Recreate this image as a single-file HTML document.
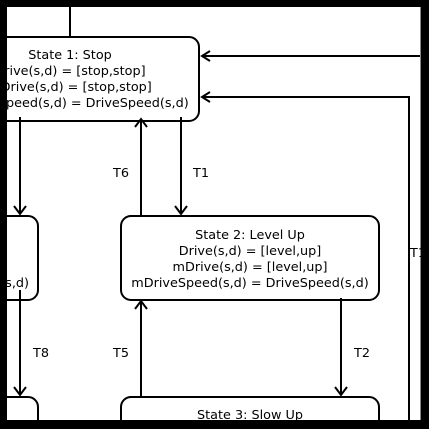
<!DOCTYPE html>
<html><head><style>
html,body{margin:0;padding:0;background:#fff;width:429px;height:429px;overflow:hidden;}
svg{display:block;}
text{font-family:"DejaVu Sans","Liberation Sans",sans-serif;font-size:12.8px;fill:#000;}
</style></head><body>
<svg width="429" height="429" viewBox="0 0 429 429" xmlns="http://www.w3.org/2000/svg">
<rect x="0" y="0" width="429" height="429" fill="#fff"/>
<g fill="none" stroke="#000" stroke-width="2">
<line x1="70" y1="7" x2="70" y2="37"/>
<rect x="-60" y="37" width="259" height="84" rx="10"/>
<rect x="121" y="216" width="258" height="84" rx="10"/>
<rect x="-60" y="216" width="98" height="84" rx="10"/>
<rect x="-60" y="397" width="98" height="84" rx="10"/>
<rect x="121" y="397" width="258" height="84" rx="10"/>
<line x1="202" y1="56" x2="421" y2="56"/>
<polyline points="202,97 409,97 409,421"/>
<line x1="20" y1="117" x2="20" y2="214"/>
<line x1="181" y1="117" x2="181" y2="214"/>
<line x1="141" y1="120" x2="141" y2="216"/>
<line x1="20" y1="290" x2="20" y2="395"/>
<line x1="141" y1="302" x2="141" y2="397"/>
<line x1="341" y1="298" x2="341" y2="395"/>
<polyline points="14,206 20,214 26,206"/>
<polyline points="175,206 181,214 187,206"/>
<polyline points="135,127 141,119 147,127"/>
<polyline points="14,387 20,395 26,387"/>
<polyline points="135,309 141,301 147,309"/>
<polyline points="335,387 341,395 347,387"/>
<polyline points="210,51 202,56 210,61"/>
<polyline points="210,92 202,97 210,102"/>
</g>
<line x1="420.5" y1="7" x2="420.5" y2="421" stroke="#888" stroke-width="1"/>
<g text-anchor="middle">
<text x="70" y="59">State 1: Stop</text>
<text x="70" y="75">Drive(s,d) = [stop,stop]</text>
<text x="70" y="91">mDrive(s,d) = [stop,stop]</text>
<text x="70" y="107">mDriveSpeed(s,d) = DriveSpeed(s,d)</text>
<text x="250" y="239">State 2: Level Up</text>
<text x="250" y="255">Drive(s,d) = [level,up]</text>
<text x="250" y="271">mDrive(s,d) = [level,up]</text>
<text x="250" y="287">mDriveSpeed(s,d) = DriveSpeed(s,d)</text>
<text x="250" y="419">State 3: Slow Up</text>
</g>
<text x="29" y="287" text-anchor="end">DriveSpeed(s,d)</text>
<text x="113" y="177">T6</text>
<text x="193" y="177">T1</text>
<text x="33" y="357">T8</text>
<text x="113" y="357">T5</text>
<text x="354" y="357">T2</text>
<text x="410" y="257">T1</text>
<rect x="0" y="0" width="429" height="7" fill="#000"/>
<rect x="0" y="0" width="7" height="429" fill="#000"/>
<rect x="421" y="0" width="8" height="429" fill="#000"/>
<rect x="0" y="420" width="429" height="9" fill="#000"/>
</svg>
</body></html>
